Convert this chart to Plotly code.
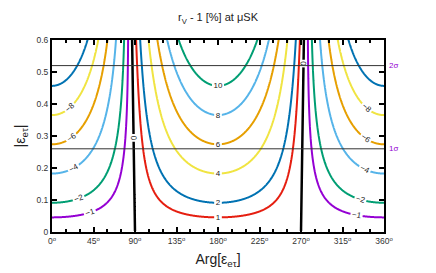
import numpy as np
import plotly.graph_objects as go

# contour levels of r_V - 1 [%] and their colours
levels = [-10, -8, -6, -4, -2, -1, 0, 1, 2, 4, 6, 8, 10]
level_colors = ['#0072B2', '#F0E442', '#E69F00', '#56B4E9', '#009E73', '#9400D3', '#000000',
                '#E51E10', '#0072B2', '#F0E442', '#E69F00', '#56B4E9', '#009E73']

# coefficients: r_V - 1 ~ a*|eps|*cos(phi) + b*|eps|^2*sin(phi)^2
coef_a = -21.9
coef_b = 2.0

# confidence lines on |eps|
sigma_vals = [0.26, 0.52]
sigma_names = ['1\u03c3', '2\u03c3']

xtick_vals = [0, 45, 90, 135, 180, 225, 270, 315, 360]
xtick_text = [str(v) + '<sup>o</sup>' for v in xtick_vals]
ytick_vals = [0, 0.1, 0.2, 0.3, 0.4, 0.5, 0.6]
ytick_text = ['0', '0.1', '0.2', '0.3', '0.4', '0.5', '0.6']

phi = np.arange(0, 360.5, 0.5)
eps = np.arange(0.0025, 0.6025, 0.0025)
P, E = np.meshgrid(np.radians(phi), eps)
Z = coef_a * E * np.cos(P) + coef_b * E**2 * np.sin(P)**2

fig = go.Figure()

for lv, col in zip(levels, level_colors):
    fig.add_trace(go.Contour(
        x=phi, y=eps, z=Z,
        contours=dict(start=lv, end=lv, size=1, coloring='none', showlabels=True,
                      labelfont=dict(size=8, color='#222222', family='Liberation Sans')),
        line=dict(color=col, width=2.5 if lv == 0 else 2),
        showscale=False, hoverinfo='skip'))

for sv, nm in zip(sigma_vals, sigma_names):
    fig.add_shape(type='line', xref='x', yref='y', x0=0, x1=360, y0=sv, y1=sv,
                  line=dict(color='#333333', width=1))
    fig.add_annotation(x=1.0, xref='paper', y=sv, yref='y', text=nm, showarrow=False,
                       xanchor='left', xshift=3, font=dict(size=8, color='#9400D3', family='Liberation Sans'))

# the page body adds an 8px offset, so the margins are shifted to compensate
fig.update_layout(
    width=436, height=273,
    margin=dict(l=44, r=60, t=32, b=49, autoexpand=False),
    plot_bgcolor='white', paper_bgcolor='white',
    showlegend=False,
    font=dict(family='Liberation Sans', color='#222222'),
    title=dict(text='r<sub>V</sub> - 1 [%] at \u03bcSK', x=0.5, xanchor='center', xref='paper',
               y=0.965, yanchor='middle', font=dict(size=11, color='#222222')),
)

fig.update_xaxes(range=[0, 360], tickvals=xtick_vals, ticktext=xtick_text,
                 ticks='inside', ticklen=5, tickwidth=1.5, tickcolor='black',
                 minor=dict(dtick=15, ticks='inside', ticklen=3, tickwidth=1.5, tickcolor='black'),
                 showline=True, linecolor='black', linewidth=2, mirror='ticks',
                 showgrid=False, zeroline=False, automargin=False,
                 tickfont=dict(size=8.5, color='#333333'),
                 title=dict(text='Arg[\u03b5<sub>e\u03c4</sub>]', font=dict(size=14, color='#222222'), standoff=9))
fig.update_yaxes(range=[0, 0.6], tickvals=ytick_vals, ticktext=ytick_text,
                 ticks='inside', ticklen=5, tickwidth=1.5, tickcolor='black',
                 showline=True, linecolor='black', linewidth=2, mirror='ticks',
                 showgrid=False, zeroline=False, automargin=False,
                 tickfont=dict(size=8.5, color='#333333'),
                 title=dict(text='|\u03b5<sub>e\u03c4</sub>|', font=dict(size=14, color='#222222'), standoff=8))

fig.write_html("out.html")
